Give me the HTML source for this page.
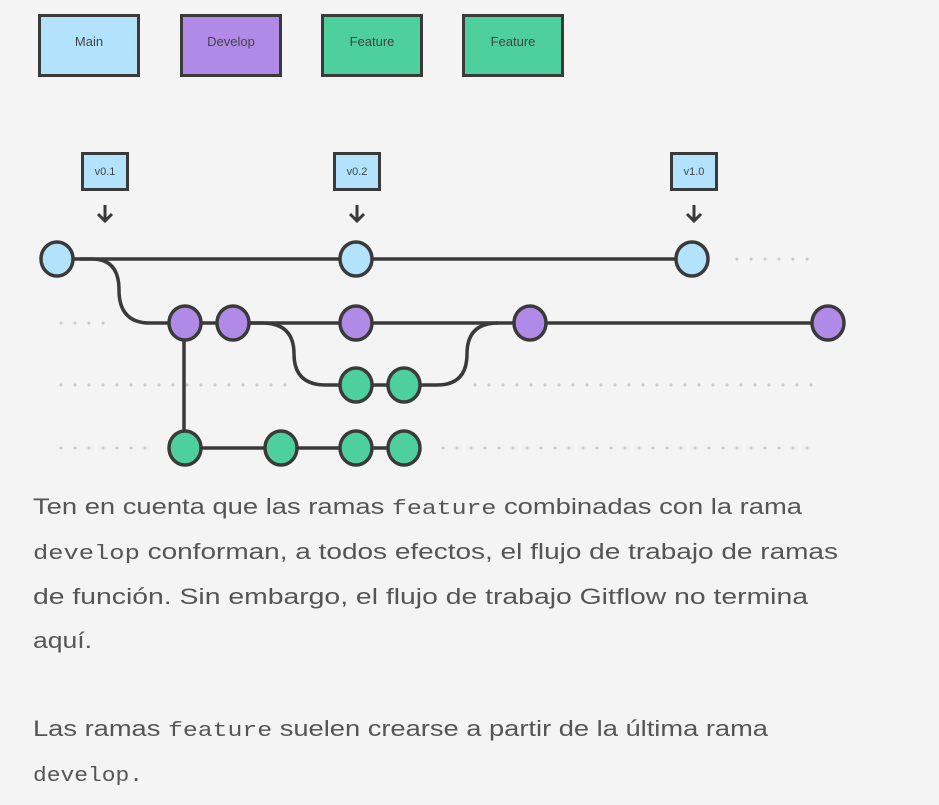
<!DOCTYPE html>
<html><head><meta charset="utf-8"><style>
html,body{margin:0;padding:0;background:#f4f4f4;width:939px;height:805px;overflow:hidden}
</style></head><body>
<svg width="939" height="805" viewBox="0 0 939 805" xmlns="http://www.w3.org/2000/svg" font-family="Liberation Sans, sans-serif">
<rect width="939" height="805" fill="#f4f4f4"/>
<g stroke="#3a3a3a" stroke-width="3">
<rect x="39.5" y="15.5" width="99" height="60" fill="#b3e3fc"/>
<rect x="181.5" y="15.5" width="99" height="60" fill="#b08ae6"/>
<rect x="322.5" y="15.5" width="99" height="60" fill="#4dd09e"/>
<rect x="463.5" y="15.5" width="99" height="60" fill="#4dd09e"/>
<rect x="82.5" y="153.5" width="45" height="36" fill="#b3e3fc"/>
<rect x="334.5" y="153.5" width="45" height="36" fill="#b3e3fc"/>
<rect x="671.5" y="153.5" width="45" height="36" fill="#b3e3fc"/>
</g>
<g font-size="13" fill="#444" text-anchor="middle">
<text x="89" y="46">Main</text><text x="231" y="46">Develop</text><text x="372" y="46">Feature</text><text x="513" y="46">Feature</text>
</g>
<g font-size="11" fill="#444" text-anchor="middle">
<text x="105" y="175">v0.1</text><text x="357" y="175">v0.2</text><text x="694" y="175">v1.0</text>
</g>
<g stroke="#3a3a3a" stroke-width="3" fill="none">
<path d="M105 205v16M98 214l7 7 7-7"/>
<path d="M357 205v16M350 214l7 7 7-7"/>
<path d="M694 205v16M687 214l7 7 7-7"/>
</g>
<g stroke="#c8c8c8" stroke-width="3" stroke-linecap="round" stroke-dasharray="0 14">
<path d="M737 259H815"/>
<path d="M61 323H107"/>
<path d="M61 385H289"/>
<path d="M475 385H815"/>
<path d="M61 448H146"/>
<path d="M443 448H815"/>
</g>
<g stroke="#3a3a3a" stroke-width="3.5" fill="none">
<path d="M57 259H692"/>
<path d="M80 259H92Q119 259 119 290Q119 323 150 323H828"/>
<path d="M184 323V448H403"/>
<path d="M250 323H262Q294 323 294 354Q294 385 326 385H403"/>
<path d="M403 385H437Q467 385 467 354Q467 323 498 323"/>
</g>
<g stroke="#3a3a3a" stroke-width="3.5">
<g fill="#b3e3fc"><ellipse cx="57" cy="259" rx="16" ry="17"/><ellipse cx="356" cy="259" rx="16" ry="17"/><ellipse cx="692" cy="259" rx="16" ry="17"/></g>
<g fill="#b08ae6"><ellipse cx="185" cy="323" rx="16" ry="17"/><ellipse cx="233" cy="323" rx="16" ry="17"/><ellipse cx="356" cy="323" rx="16" ry="17"/><ellipse cx="530" cy="323" rx="16" ry="17"/><ellipse cx="828" cy="323" rx="16" ry="17"/></g>
<g fill="#4dd09e"><ellipse cx="356" cy="385" rx="16" ry="17"/><ellipse cx="404" cy="385" rx="16" ry="17"/><ellipse cx="185" cy="448" rx="16" ry="17"/><ellipse cx="281" cy="448" rx="16" ry="17"/><ellipse cx="356" cy="448" rx="16" ry="17"/><ellipse cx="404" cy="448" rx="16" ry="17"/></g>
</g>
<g font-size="22" fill="#555">
<text x="33" y="514" textLength="769" lengthAdjust="spacingAndGlyphs">Ten en cuenta que las ramas <tspan font-family="Liberation Mono, monospace" font-size="20">feature</tspan> combinadas con la rama</text>
<text x="33" y="559" textLength="805" lengthAdjust="spacingAndGlyphs"><tspan font-family="Liberation Mono, monospace" font-size="20">develop</tspan> conforman, a todos efectos, el flujo de trabajo de ramas</text>
<text x="33" y="604" textLength="775" lengthAdjust="spacingAndGlyphs">de función. Sin embargo, el flujo de trabajo Gitflow no termina</text>
<text x="33" y="648" textLength="59" lengthAdjust="spacingAndGlyphs">aquí.</text>
<text x="33" y="736" textLength="735" lengthAdjust="spacingAndGlyphs">Las ramas <tspan font-family="Liberation Mono, monospace" font-size="20">feature</tspan> suelen crearse a partir de la última rama</text>
<text x="33" y="781" textLength="110" lengthAdjust="spacingAndGlyphs" font-family="Liberation Mono, monospace" font-size="20">develop.</text>
</g>
</svg>
</body></html>
